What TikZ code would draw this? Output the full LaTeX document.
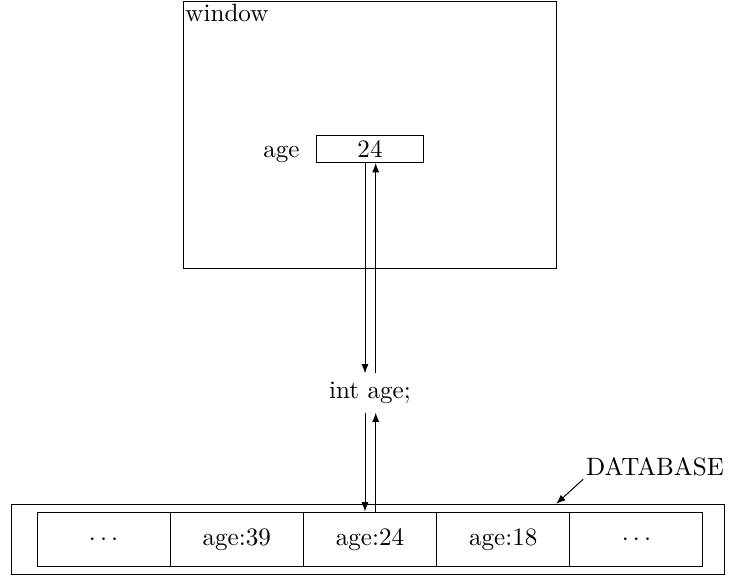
\documentclass[tikz,border=0pt]{standalone}
\usetikzlibrary{arrows.meta,positioning,calc}
\tikzset{
  winbox/.style={draw, minimum width=5.22cm, minimum height=3.74cm, inner sep=0pt},
  varbox/.style={draw, minimum width=1.51cm, minimum height=0.38cm, inner sep=0pt},
  dbbox/.style={draw, minimum width=10.0cm, minimum height=0.98cm, inner sep=0pt},
  cell/.style={draw, minimum width=1.865cm, minimum height=0.77cm, inner sep=0pt},
  flow/.style={-{Latex[length=1.3mm,width=1mm]}},
}

\begin{document}
\begin{tikzpicture}[x=0.014cm, y=-0.014cm]
  \useasboundingbox (0,0) rectangle (731,576);
  % window with the variable
  \node[winbox] (win) at (369.8,135.5) {};
  \node[anchor=north west, inner sep=0.8pt] (wintxt) at (win.north west) {window};
  \node[varbox] (agebox) at (370,149) {24};
  \node[base left=0.1cm of agebox] (agelbl) {age};
  % program variable
  \node (intage) at (370,393) {int age;};
  % database
  \node[dbbox] (db) at (368,539.3) {};
  \foreach \t [count=\i] in {$\cdots$, age:39, age:24, age:18, $\cdots$}
    \node[cell] (c\i) at ({37+66.6+133.2*(\i-1)},539.5) {\t};
  \node[inner sep=1pt] (dblbl) at (655,467) {DATABASE};
  % data flow
  \draw[flow] ([xshift=-0.07cm]agebox.south) -- ([xshift=-0.07cm]intage.north);
  \draw[flow] ([xshift=0.08cm]intage.north) -- ([xshift=0.08cm]agebox.south);
  \draw[flow] ([xshift=-0.07cm]intage.south) -- ([xshift=-0.07cm]c3.north);
  \draw[flow] ([xshift=0.08cm]c3.north) -- ([xshift=0.08cm]intage.south);
  \draw[flow] (dblbl.south west) -- ([xshift=-2.37cm]db.north east);
\end{tikzpicture}
\end{document}
